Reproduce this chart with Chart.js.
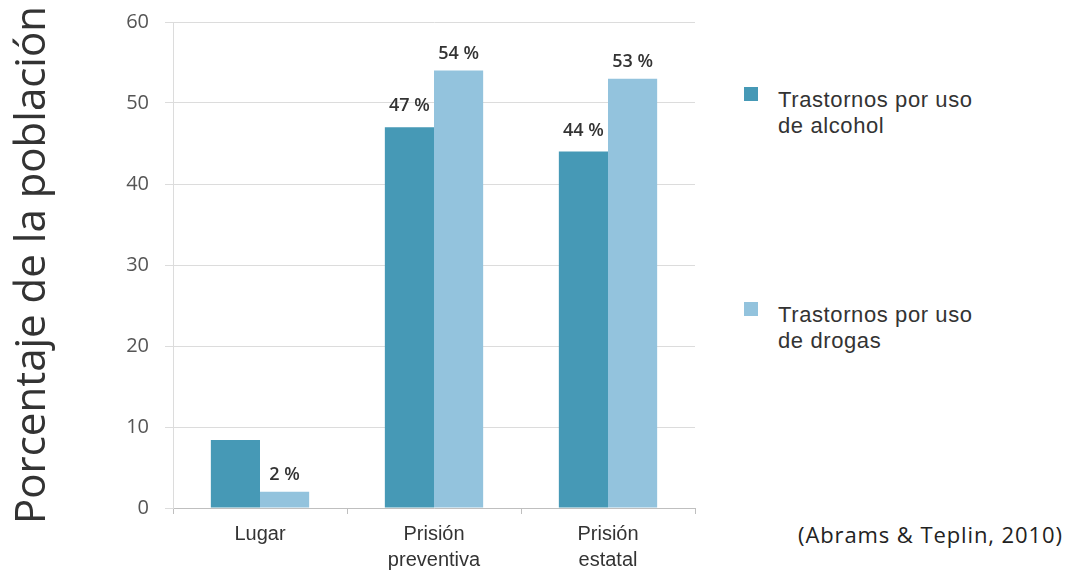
<!DOCTYPE html>
<html lang="es">
<head>
<meta charset="utf-8">
<title>Trastornos por uso de sustancias</title>
<script src="https://cdn.jsdelivr.net/npm/chart.js@4.4.1/dist/chart.umd.min.js"></script>
<style>
    body { margin: 0; background: #fff; width: 1071px; height: 572px; overflow: hidden; position: relative; }
    #chartBox { position: absolute; left: 0; top: 0; width: 720px; height: 572px; }
    .legend-item { position: absolute; left: 744px; font-family: "Liberation Sans", Arial, sans-serif; font-size: 22px; letter-spacing: 0.6px; line-height: 26px; color: #333; }
    .legend-item .swatch { position: absolute; left: 0; top: 0; width: 14px; height: 14px; }
    .legend-item .text { margin-left: 34px; margin-top: 0; }
    #source { position: absolute; left: 798px; top: 519px; font-family: "Open Sans", sans-serif; font-size: 22px; letter-spacing: 0.9px; color: #222; }
</style>
</head>
<body>
<div id="chartBox"><canvas id="barChart"></canvas></div>
<div id="legend"></div>
<div id="source">(Abrams &amp; Teplin, 2010)</div>

<script>
const categories = [["Lugar"], ["Prisión", "preventiva"], ["Prisión", "estatal"]];
const alcoholValues = [8.4, 47, 44];
const drugValues = [2, 54, 53];
// which bars carry a "%" label
const alcoholLabeled = [false, true, true];
const drugLabeled = [true, true, true];
const seriesNames = [["Trastornos por uso", "de alcohol"], ["Trastornos por uso", "de drogas"]];
const yTicks = [0, 10, 20, 30, 40, 50, 60];

const colors = ["#4699b6", "#93c3dd"];

// value labels above the bars
const barLabels = {
    id: "barLabels",
    afterDatasetsDraw(chart) {
        const ctx = chart.ctx;
        ctx.save();
        ctx.font = "600 18px 'Open Sans', sans-serif";
        ctx.fillStyle = "#333";
        ctx.textAlign = "center";
        ctx.textBaseline = "middle";
        chart.data.datasets.forEach((ds, i) => {
            chart.getDatasetMeta(i).data.forEach((bar, j) => {
                if (!ds.labeled[j]) return;
                ctx.fillText(ds.data[j] + " %", bar.x, bar.y - ds.labelGap);
            });
        });
        ctx.restore();
    }
};

const datasets = [
    { label: seriesNames[0].join(" "), data: alcoholValues, backgroundColor: colors[0], labeled: alcoholLabeled, labelGap: 21 },
    { label: seriesNames[1].join(" "), data: drugValues, backgroundColor: colors[1], labeled: drugLabeled, labelGap: 17 }
];

new Chart(document.getElementById("barChart"), {
    type: "bar",
    data: { labels: categories, datasets: datasets },
    options: {
        responsive: true,
        maintainAspectRatio: false,
        animation: false,
        layout: { padding: { top: 22, right: 25, left: 0, bottom: 0 } },
        datasets: { bar: { categoryPercentage: 0.565, barPercentage: 1 } },
        plugins: { legend: { display: false }, tooltip: { enabled: false } },
        scales: {
            x: {
                afterFit(scale) { scale.height = 64; },
                grid: { drawOnChartArea: false, drawTicks: true, tickLength: 6, color: "#bfbfbf" },
                border: { color: "#bfbfbf" },
                ticks: { color: "#333", padding: 7, font: { family: "'Liberation Sans', Arial, sans-serif", size: 20, lineHeight: 1.3 } }
            },
            y: {
                min: 0,
                max: 60,
                afterFit(scale) {
                    scale.width = 173;
                    scale.paddingTop = 0;
                    scale.paddingBottom = 0;
                },
                afterBuildTicks(scale) { scale.ticks = yTicks.map(v => ({ value: v })); },
                grid: { color: "#dcdcdc", tickLength: 8 },
                border: { color: "#dcdcdc" },
                ticks: { color: "#555", padding: 16, font: { family: "'Open Sans', sans-serif", size: 20 } },
                title: {
                    display: true,
                    text: "Porcentaje de la población",
                    color: "#333",
                    padding: { top: 8, bottom: 0 },
                    font: { family: "'Open Sans', sans-serif", size: 42 }
                }
            }
        }
    },
    plugins: [barLabels]
});

// legend on the right
const legendBox = document.getElementById("legend");
const legendTops = [87, 302];
seriesNames.forEach((lines, i) => {
    const item = document.createElement("div");
    item.className = "legend-item";
    item.style.top = legendTops[i] + "px";
    item.innerHTML = `<span class="swatch" style="background:${colors[i]}"></span><div class="text">${lines.join("<br>")}</div>`;
    legendBox.appendChild(item);
});
</script>
</body>
</html>
